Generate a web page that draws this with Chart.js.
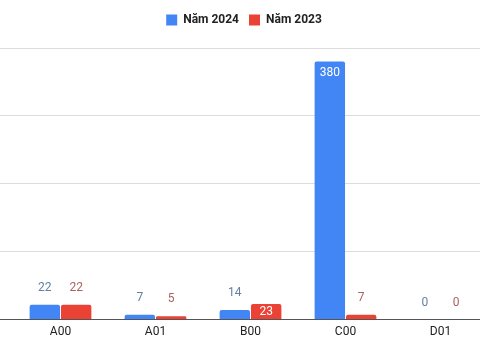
<!DOCTYPE html>
<html lang="vi">
<head>
    <meta charset="UTF-8">
    <title>Năm 2024 / Năm 2023</title>
    <script src="https://cdn.jsdelivr.net/npm/chart.js"></script>
    <style>
        body { margin: 0; overflow: hidden; background: #fff; }
        #wrap { width: 480px; height: 360px; overflow: hidden; }
    </style>
</head>
<body>
    <div id="wrap">
        <canvas id="chart" width="490" height="360"></canvas>
    </div>
    <script>
        // data
        const categories = ['A00', 'A01', 'B00', 'C00', 'D01'];
        const values2024 = [22, 7, 14, 380, 0];
        const values2023 = [22, 5, 23, 7, 0];

        const blue = '#4285f4';
        const red = '#ea4335';

        // value labels above bars, or inside when the bar is big enough
        const valueLabels = {
            id: 'valueLabels',
            afterDatasetsDraw(chart) {
                const ctx = chart.ctx;
                ctx.save();
                ctx.font = '12px Roboto';
                ctx.textAlign = 'center';
                ctx.textBaseline = 'middle';
                chart.data.datasets.forEach((ds, i) => {
                    const meta = chart.getDatasetMeta(i);
                    meta.data.forEach((bar, j) => {
                        const v = ds.data[j];
                        if (v > 22) {
                            ctx.fillStyle = '#ffffff';
                            const y = Math.min(bar.y + 11, (bar.y + bar.base) / 2);
                            ctx.fillText(v, bar.x, y);
                        } else {
                            ctx.fillStyle = ds.labelColor;
                            ctx.fillText(v, bar.x, bar.y - 17);
                        }
                    });
                });
                ctx.restore();
            }
        };

        // extra room under the legend
        const legendGap = {
            id: 'legendGap',
            beforeInit(chart) {
                const fit = chart.legend.fit;
                chart.legend.fit = function () {
                    fit.bind(chart.legend)();
                    this.height += 12;
                };
            }
        };

        const ctx = document.getElementById('chart').getContext('2d');
        new Chart(ctx, {
            type: 'bar',
            data: {
                labels: categories,
                datasets: [{
                    label: 'Năm 2024',
                    data: values2024,
                    backgroundColor: blue,
                    labelColor: '#64809e',
                    borderRadius: 2,
                    borderSkipped: 'bottom'
                }, {
                    label: 'Năm 2023',
                    data: values2023,
                    backgroundColor: red,
                    labelColor: '#a9625f',
                    borderRadius: 2,
                    borderSkipped: 'bottom'
                }]
            },
            options: {
                responsive: false,
                animation: false,
                categoryPercentage: 0.66,
                barPercentage: 0.97,
                layout: { padding: { top: 4, right: 2, bottom: 16, left: 0 } },
                plugins: {
                    tooltip: { enabled: false },
                    legend: {
                        position: 'top',
                        labels: {
                            font: { family: 'Roboto', size: 12, weight: 'bold' },
                            color: '#222',
                            boxWidth: 11,
                            boxHeight: 11,
                            padding: 10
                        }
                    }
                },
                scales: {
                    x: {
                        grid: { display: false, drawTicks: false },
                        border: { display: false },
                        ticks: {
                            font: { family: 'Roboto', size: 12 },
                            color: '#222',
                            padding: 5
                        }
                    },
                    y: {
                        min: 0,
                        max: 400,
                        ticks: { display: false, stepSize: 100 },
                        border: { display: false },
                        grid: {
                            tickLength: 13,
                            color: c => c.tick && c.tick.value === 0 ? '#555' : '#dcdcdc'
                        }
                    }
                }
            },
            plugins: [valueLabels, legendGap]
        });
    </script>
</body>
</html>
